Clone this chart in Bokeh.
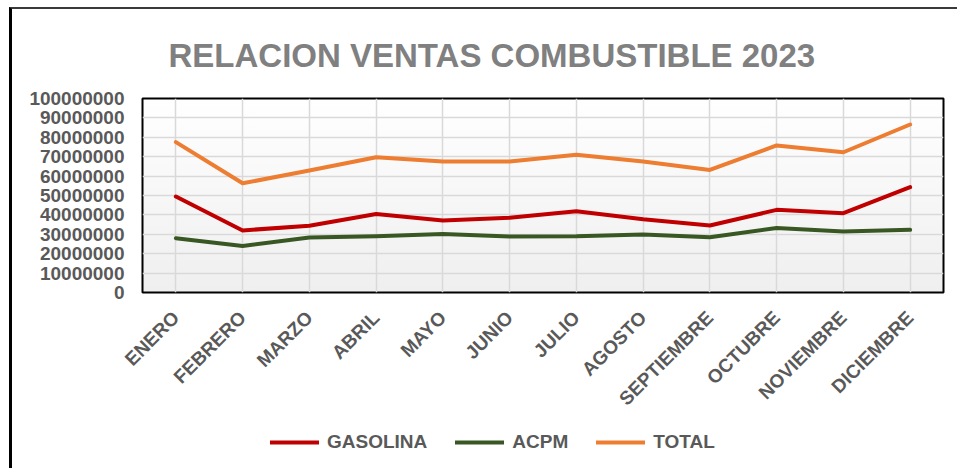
from bokeh.plotting import figure
from bokeh.layouts import column
from bokeh.models import FactorRange, Range1d, FixedTicker, Legend, LegendItem, ColumnDataSource
from bokeh.embed import file_html
from bokeh.resources import INLINE
from math import pi

months = ["ENERO", "FEBRERO", "MARZO", "ABRIL", "MAYO", "JUNIO", "JULIO",
          "AGOSTO", "SEPTIEMBRE", "OCTUBRE", "NOVIEMBRE", "DICIEMBRE"]
gasolina = [49500000, 32000000, 34400000, 40500000, 37100000, 38500000,
            41900000, 37800000, 34500000, 42600000, 40900000, 54300000]
acpm = [28000000, 24000000, 28400000, 29000000, 30200000, 28900000,
        29000000, 29900000, 28500000, 33200000, 31400000, 32300000]
total = [77500000, 56300000, 62900000, 69700000, 67500000, 67500000,
         71000000, 67500000, 63200000, 75800000, 72300000, 86600000]
y_ticks = [0, 10000000, 20000000, 30000000, 40000000, 50000000,
           60000000, 70000000, 80000000, 90000000, 100000000]
y_tick_labels = [str(v) for v in y_ticks]
title_text = "RELACION VENTAS COMBUSTIBLE 2023"
series_keys = ["gasolina", "acpm", "total"]
series_names = ["GASOLINA", "ACPM", "TOTAL"]
series_colors = ["#C00000", "#385723", "#ED7D31"]

src = ColumnDataSource(dict(month=months, gasolina=gasolina, acpm=acpm, total=total))

FONT = "Liberation Sans"
LABEL_COLOR = "#595959"
W = 945

p = figure(x_range=FactorRange(*months), y_range=Range1d(0, 100000000),
           width=W, height=410, output_backend="svg", toolbar_location=None,
           min_border_left=130, min_border_right=14, min_border_top=89,
           min_border_bottom=127)

p.styles = {
    "background": "linear-gradient(#ffffff, #efefef) 130px 89px / 801px 194px no-repeat, #ffffff",
}
p.background_fill_alpha = 0
p.border_fill_alpha = 0
p.outline_line_color = "black"
p.outline_line_width = 2

# title
p.title.text = title_text
p.title.align = "left"
p.title.offset = 26
p.title.text_font = FONT
p.title.text_font_style = "bold"
p.title.text_font_size = "33px"
p.title.text_color = "#808080"
p.title.standoff = 50

# grids
p.ygrid.ticker = FixedTicker(ticks=y_ticks)
p.ygrid.grid_line_color = "#d9d9d9"
p.ygrid.grid_line_width = 1.5
p.xgrid.grid_line_color = "#d9d9d9"
p.xgrid.grid_line_width = 1.5

# axes
p.yaxis.ticker = FixedTicker(ticks=y_ticks)
p.yaxis.major_label_overrides = {v: s for v, s in zip(y_ticks, y_tick_labels)}
for ax in (p.xaxis[0], p.yaxis[0]):
    ax.axis_line_color = None
    ax.major_tick_line_color = None
    ax.minor_tick_line_color = None
    ax.major_label_text_font = FONT
    ax.major_label_text_font_style = "bold"
    ax.major_label_text_color = LABEL_COLOR
    ax.major_label_text_font_size = "19px"
p.yaxis.major_label_standoff = 12
p.xaxis.major_label_orientation = pi / 4
p.xaxis.major_label_standoff = 16

for key, color in zip(series_keys, series_colors):
    p.line(x="month", y=key, source=src, line_color=color, line_width=4,
           line_cap="round", line_join="round")

# legend strip: a small figure whose y-range lies outside the data, so its
# copies of the series are clipped away and only the legend is visible
lg = figure(x_range=FactorRange(*months), y_range=Range1d(-2, -1),
            width=W, height=49, output_backend="svg", toolbar_location=None,
            x_axis_type=None, y_axis_type=None, min_border=0)
lg.outline_line_color = None
lg.xgrid.visible = False
lg.ygrid.visible = False
lg.background_fill_color = "white"
lg.border_fill_color = "white"
legend_renderers = []
for key, color in zip(series_keys, series_colors):
    legend_renderers.append(lg.line(x="month", y=key, source=src, line_color=color,
                                    line_width=4, line_cap="round"))

legend = Legend(items=[LegendItem(label=n, renderers=[r])
                       for n, r in zip(series_names, legend_renderers)],
                orientation="horizontal", location=(128, 15))
legend.label_text_font = FONT
legend.label_text_font_style = "bold"
legend.label_text_font_size = "19px"
legend.label_text_color = LABEL_COLOR
legend.glyph_width = 49
legend.label_standoff = 8
legend.spacing = 28
legend.border_line_color = None
legend.background_fill_alpha = 0
legend.margin = 0
legend.padding = 5
lg.add_layout(legend, "center")

layout = column(p, lg, spacing=0, styles={
    "border-top": "2px solid #3a3a3a",
    "border-left": "3px solid #000000",
    "margin-left": "9px",
    "margin-top": "7px",
    "background": "#ffffff",
})

open("out.html", "w").write(file_html(layout, INLINE))
